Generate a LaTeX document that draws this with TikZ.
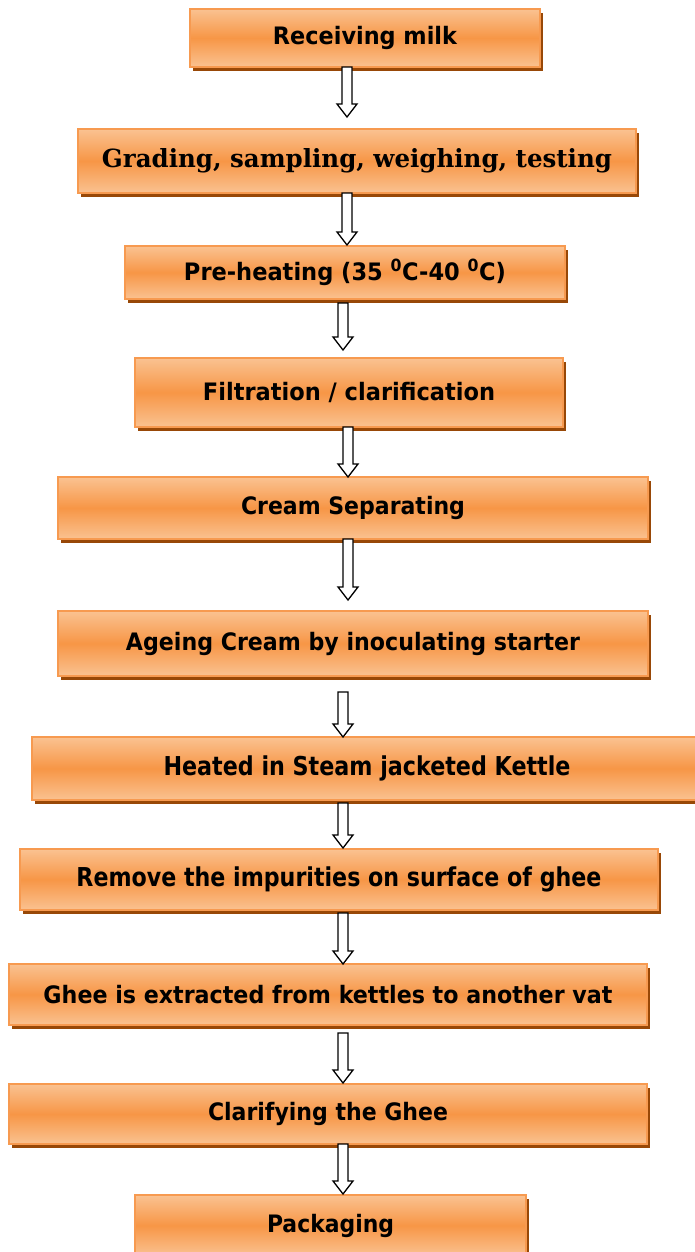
\documentclass[tikz,border=0pt]{standalone}
\usepackage{fontspec}
\usepackage{graphicx}
\setmainfont{DejaVu Sans}
\newfontfamily\slabfont{DejaVu Serif}
\usetikzlibrary{calc,shadows}
\definecolor{peach}{HTML}{FAC291}
\definecolor{orangec}{HTML}{F79646}
\definecolor{borderc}{HTML}{F79A50}
\definecolor{shadowc}{HTML}{984807}
\newcommand\fitw[2]{\resizebox{#1pt}{\height}{#2}}
\newcommand\flowarrow[5]{%
  \draw[barrow] let \p1=(#2.south), \p2=(#4.north) in
    ({#1pt-5pt},{\y1-#3pt}) -- ({#1pt+5pt},{\y1-#3pt})
    -- ({#1pt+5pt},{\y2+#5pt+13pt}) -- ({#1pt+10pt},{\y2+#5pt+13pt})
    -- ({#1pt},{\y2+#5pt}) -- ({#1pt-10pt},{\y2+#5pt+13pt})
    -- ({#1pt-5pt},{\y2+#5pt+13pt}) -- cycle;}
\begin{document}
\begin{tikzpicture}[x=1pt,y=-1pt,
  flowbox/.style={rectangle, draw=borderc, line width=1.3pt,
    top color=peach, bottom color=peach, middle color=orangec,
    inner sep=0pt, outer sep=0pt,
    general shadow={fill=shadowc, shadow xshift=3pt, shadow yshift=-4pt},
    font=\fontsize{24}{28}\selectfont\bfseries},
  slabtext/.style={font=\fontsize{25}{29}\slabfont\bfseries},
  tallertext/.style={font=\fontsize{26}{30}\selectfont\bfseries},
  barrow/.style={draw=black, fill=white, line width=1.3pt, line join=miter}]
\useasboundingbox (0,0) rectangle (694,1252);
\node[flowbox, minimum width=350pt, minimum height=58pt] (n1) at (365,38) {\fitw{184}{Receiving milk}};
\node[flowbox, slabtext, minimum width=558pt, minimum height=64pt] (n2) at (357,161) {\fitw{510}{Grading, sampling, weighing, testing}};
\node[flowbox, minimum width=440pt, minimum height=53pt] (n3) at (345,272.5) {\fitw{322}{Pre-heating (35 \textsuperscript{0}C-40 \textsuperscript{0}C)}};
\node[flowbox, minimum width=428pt, minimum height=69pt] (n4) at (349,392.5) {\fitw{292}{Filtration / clarification}};
\node[flowbox, minimum width=590pt, minimum height=62pt] (n5) at (353,508) {\fitw{224}{Cream Separating}};
\node[flowbox, minimum width=590pt, minimum height=65pt] (n6) at (353,643.5) {\fitw{454}{Ageing Cream by inoculating starter}};
\node[flowbox, tallertext, minimum width=670pt, minimum height=63pt] (n7) at (367,768.5) {\fitw{407}{Heated in Steam jacketed Kettle}};
\node[flowbox, tallertext, minimum width=638pt, minimum height=61pt] (n8) at (339,879.5) {\fitw{525}{Remove the impurities on surface of ghee}};
\node[flowbox, minimum width=638pt, minimum height=61pt] (n9) at (328,994.5) {\fitw{569}{Ghee is extracted from kettles to another vat}};
\node[flowbox, minimum width=638pt, minimum height=60pt] (n10) at (328,1114) {\fitw{240}{Clarifying the Ghee}};
\node[flowbox, minimum width=391pt, minimum height=61pt] (n11) at (330.5,1225.5) {\fitw{127}{Packaging}};
\flowarrow{347}{n1}{0}{n2}{12}
\flowarrow{347}{n2}{0}{n3}{1}
\flowarrow{343}{n3}{4}{n4}{8}
\flowarrow{348}{n4}{0}{n5}{0}
\flowarrow{348}{n5}{0}{n6}{11}
\flowarrow{343}{n6}{16}{n7}{0}
\flowarrow{343}{n7}{3}{n8}{1}
\flowarrow{343}{n8}{3}{n9}{0}
\flowarrow{343}{n9}{8}{n10}{1}
\flowarrow{343}{n10}{0}{n11}{1}
\end{tikzpicture}
\end{document}
